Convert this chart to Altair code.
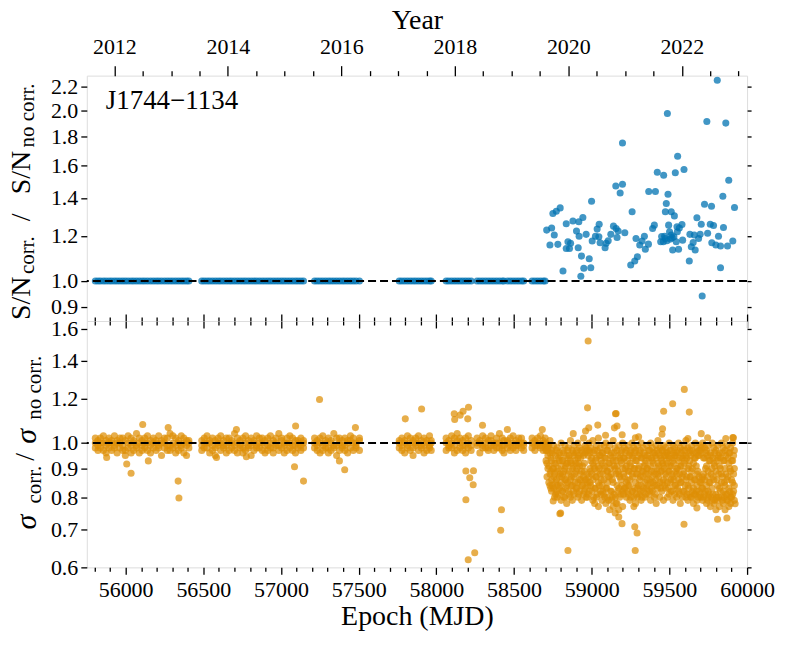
import altair as alt
import pandas as pd

FONT = "'Liberation Serif', 'DejaVu Serif', 'Noto Serif', serif"
BLUE = "#0173B2"
ORANGE = "#DE8F05"
X_DOMAIN = [55750, 60000]
TOP_DOMAIN = [0.85, 2.3]
BOT_DOMAIN = [0.6, 1.65]
TOP_TICKS = [0.9, 1.0, 1.2, 1.4, 1.6, 1.8, 2.0, 2.2]
BOT_TICKS = [0.6, 0.7, 0.8, 0.9, 1.0, 1.2, 1.4, 1.6]
MJD_TICKS = list(range(55800, 60001, 100))
YEAR_TICKS = [2012.0, 2012.5, 2013.0, 2013.5, 2014.0, 2014.5, 2015.0, 2015.5, 2016.0,
              2016.5, 2017.0, 2017.5, 2018.0, 2018.5, 2019.0, 2019.5, 2020.0, 2020.5,
              2021.0, 2021.5, 2022.0, 2022.5, 2023.0]

# observing epochs before the correction era (ratio of S/N exactly 1)
SEG1 = [55805, 55822, 55838, 55857, 55874, 55893, 55910, 55928, 55945, 55963, 55981, 55998,
        56016, 56035, 56052, 56070, 56088, 56106, 56123, 56141, 56160, 56178, 56196, 56213,
        56231, 56250, 56268, 56286, 56304, 56322, 56340, 56358, 56375, 56392, 56407]
SEG2 = [56490, 56506, 56524, 56541, 56559, 56577, 56595, 56612, 56630, 56648, 56666, 56683,
        56701, 56719, 56737, 56755, 56772, 56790, 56808, 56826, 56843, 56861, 56879, 56897,
        56915, 56932, 56950, 56968, 56986, 57004, 57021, 57039, 57057, 57075, 57093, 57110,
        57128, 57145]
SEG3 = [57216, 57233, 57251, 57269, 57287, 57305, 57322, 57340, 57358, 57376, 57394, 57411,
        57429, 57447, 57465, 57483, 57505]
SEG4 = [57761, 57778, 57796, 57814, 57832, 57850, 57867, 57885, 57903, 57921, 57939, 57956, 57967]
SEG5 = [58063, 58080, 58098, 58116, 58134, 58152, 58170, 58188, 58206, 58224, 58262, 58280,
        58298, 58316, 58334, 58352, 58370, 58388, 58406, 58424, 58435, 58458, 58476, 58494,
        58512, 58530, 58548, 58562]
SEG6 = [58616, 58634, 58652, 58670, 58688, 58700]
EARLY_MJD = SEG1 + SEG2 + SEG3 + SEG4 + SEG5 + SEG6
EARLY_SN_RATIO = 1.0

# S/N ratio after the correction started
TOP_LATE_MJD = [58710, 58742, 58731, 58759, 58750, 58772, 58797, 58782, 58815, 58836, 58847, 58836,
                58864, 58857, 58879, 58902, 58913, 58917, 58943, 58919, 58934, 58949, 58930, 58964,
                58984, 58994, 58999, 59003, 59024, 59035, 59048, 59054, 59046, 59086, 59093, 59106,
                59123, 59140, 59157, 59163, 59170, 59155, 59183, 59198, 59198, 59213, 59251, 59260,
                59277, 59294, 59285, 59309, 59324, 59339, 59345, 59367, 59365, 59392, 59403, 59410,
                59422, 59450, 59461, 59463, 59474, 59480, 59487, 59491, 59474, 59495, 59506, 59512,
                59512, 59521, 59532, 59529, 59538, 59544, 59553, 59551, 59559, 59564, 59581, 59585,
                59594, 59628, 59632, 59641, 59653, 59660, 59666, 59677, 59688, 59698, 59705, 59711,
                59726, 59741, 59746, 59763, 59771, 59773, 59784, 59799, 59808, 59816, 59829, 59829,
                59844, 59848, 59863, 59874, 59882, 59908, 59919, 59444, 59484, 59517, 59501, 59469,
                59549]
TOP_LATE_VAL = [1.229, 1.240, 1.157, 1.205, 1.315, 1.327, 1.345, 1.160, 1.041, 1.261, 1.172, 1.141,
                1.165, 1.141, 1.275, 1.224, 1.144, 1.271, 1.294, 1.199, 1.106, 1.053, 1.019, 1.208,
                1.094, 1.055, 1.382, 1.176, 1.199, 1.234, 1.259, 1.168, 1.196, 1.144, 1.165, 1.177,
                1.208, 1.249, 1.237, 1.193, 1.224, 1.470, 1.429, 1.480, 1.750, 1.216, 1.067, 1.324,
                1.084, 1.103, 1.188, 1.157, 1.176, 1.199, 1.137, 1.437, 1.161, 1.237, 1.254, 1.437,
                1.554, 1.198, 1.172, 1.535, 1.324, 1.369, 1.972, 1.422, 1.188, 1.254, 1.185, 1.324,
                1.205, 1.134, 1.302, 1.196, 1.551, 1.172, 1.658, 1.221, 1.137, 1.240, 1.257, 1.180,
                1.571, 1.084, 1.208, 1.149, 1.169, 1.205, 1.134, 1.292, 1.188, 1.208, 1.259, 0.941,
                1.365, 1.910, 1.213, 1.259, 1.354, 1.168, 1.252, 1.157, 2.257, 1.199, 1.152, 1.055,
                1.410, 1.242, 1.897, 1.152, 1.504, 1.176, 1.347, 1.172, 1.177, 1.191, 1.221, 1.199,
                1.246]

# sigma ratio, three TOAs per early epoch
BOT_EARLY_VAL = [
    1.00, 0.98, 1.02, 0.99, 1.01, 0.97, 1.02, 0.98, 1.00, 0.97, 1.00, 1.03, 1.01, 0.99, 0.96,
    0.98, 1.02, 1.00, 1.00, 0.97, 1.01, 0.99, 1.03, 0.98, 1.01, 0.96, 1.00, 0.98, 1.00, 1.02,
    1.02, 0.99, 0.97, 0.97, 1.01, 0.95, 1.00, 0.98, 1.03, 0.99, 1.02, 0.96, 1.01, 0.97, 1.00,
    0.98, 1.04, 0.99, 1.00, 0.96, 1.02, 0.99, 1.01, 0.97, 1.02, 0.98, 1.00, 0.97, 1.00, 1.03,
    1.01, 0.99, 0.96, 0.98, 1.02, 1.00, 1.00, 0.97, 1.01, 0.99, 1.03, 0.98, 1.01, 0.95, 1.00,
    0.98, 1.00, 1.02, 1.02, 0.99, 0.97, 0.97, 1.04, 0.99, 1.00, 0.98, 1.03, 0.99, 1.02, 0.96,
    1.01, 0.97, 1.00, 0.98, 1.03, 0.99, 1.00, 0.96, 1.02, 0.99, 1.01, 0.95, 1.01, 0.98, 1.00,
    0.99, 1.01, 0.97, 1.02, 0.98, 1.00, 0.98, 1.00, 1.03, 1.00, 0.96, 1.01, 0.97, 0.99, 1.02,
    1.01, 0.98, 0.95, 0.99, 1.02, 1.00, 1.00, 0.97, 1.03, 0.98, 1.01, 0.99, 1.02, 0.99, 0.96,
    0.97, 1.00, 1.02, 1.01, 0.98, 1.00, 0.99, 1.04, 0.97, 1.00, 0.96, 1.02, 0.98, 1.01, 0.99,
    1.02, 0.98, 0.96, 0.97, 1.00, 1.03, 1.01, 0.99, 0.98, 0.99, 1.02, 0.95, 1.00, 0.97, 1.01,
    0.98, 1.03, 0.99, 1.02, 0.98, 1.00, 0.97, 1.00, 1.02, 1.01, 0.96, 0.99, 0.99, 1.02, 0.97,
    1.00, 0.98, 1.03, 0.98, 1.01, 0.96, 1.02, 0.99, 1.00, 0.97, 1.04, 0.99, 1.01, 0.98, 1.02,
    0.99, 0.96, 1.00, 1.00, 1.02, 0.97, 0.98, 1.00, 1.03, 1.02, 0.97, 0.99, 0.99, 1.01, 0.96,
    1.01, 0.98, 1.00, 0.97, 1.02, 0.99, 1.00, 0.98, 1.01,
    1.00, 0.98, 1.02, 0.97, 1.01, 0.99, 1.02, 0.96, 1.00, 0.99, 1.03, 0.97, 1.01, 0.98, 1.00,
    0.98, 1.02, 0.96, 1.00, 0.97, 1.01, 0.99, 1.04, 0.98, 1.02, 0.99, 0.95, 0.97, 1.00, 1.02,
    1.01, 0.98, 0.99, 0.99, 1.02, 0.97, 1.00, 0.96, 1.01, 0.98, 1.01, 1.03, 1.02, 0.97, 1.00,
    0.99, 1.00, 0.98, 1.01, 0.97, 1.02,
    1.00, 0.98, 1.01, 0.97, 1.02, 0.99, 1.01, 0.96, 1.00, 0.99, 1.03, 0.98, 1.02, 0.97, 1.00,
    0.98, 1.01, 0.95, 1.00, 0.99, 1.02, 0.97, 1.00, 1.03, 1.01, 0.98, 0.99, 0.99, 1.02, 0.96,
    1.00, 0.97, 1.01, 0.98, 1.03, 0.99, 1.01, 0.97, 1.00,
    1.00, 0.97, 1.02, 0.98, 1.01, 0.99, 1.03, 0.98, 1.00, 0.99, 1.02, 0.96, 1.01, 0.97, 1.04,
    1.00, 0.98, 1.02, 0.97, 1.01, 0.99, 1.02, 0.99, 0.96, 0.98, 1.00, 1.03, 1.01, 0.97, 0.99,
    0.99, 1.02, 1.00, 1.00, 0.96, 1.01, 0.98, 1.03, 0.99, 1.02, 0.98, 1.00, 0.97, 1.01, 0.98,
    1.01, 0.99, 1.03, 0.99, 0.97, 1.00, 1.00, 1.02, 0.98, 0.98, 1.00, 1.04, 1.02, 0.97, 0.99,
    0.99, 1.01, 0.96, 1.01, 0.98, 1.00, 0.97, 1.02, 0.99, 1.00, 0.98, 1.03, 0.99, 1.01, 0.97,
    1.02, 0.99, 1.00, 0.98, 1.00, 1.02, 1.00, 0.97, 0.99,
    1.00, 0.98, 1.02, 0.99, 1.01, 0.97, 1.02, 0.99, 1.00, 0.98, 1.03, 0.99, 1.00, 0.97, 1.01,
    0.99, 1.02, 0.98,
]

# sigma ratio in the correction era: epochs and four TOAs each
BOT_LATE_MJD = [58706, 58718, 58731, 58742, 58755, 58767, 58778, 58791, 58803, 58814, 58827, 58839,
                58850, 58863, 58875, 58886, 58899, 58911, 58922, 58935, 58947, 58958, 58971, 58983,
                58994, 59007, 59019, 59030, 59043, 59055, 59066, 59079, 59091, 59102, 59115, 59127,
                59138, 59151, 59163, 59174, 59187, 59199, 59210, 59223, 59235, 59246, 59259, 59271,
                59282, 59295, 59307, 59318, 59331, 59343, 59354, 59367, 59379, 59390, 59403, 59415,
                59426, 59439, 59451, 59462, 59475, 59487, 59498, 59511, 59523, 59534, 59547, 59559,
                59570, 59583, 59595, 59606, 59619, 59631, 59642, 59655, 59667, 59678, 59691, 59703,
                59714, 59727, 59739, 59750, 59763, 59775, 59786, 59799, 59811, 59822, 59835, 59847,
                59858, 59871, 59883, 59894, 59907, 59918]
BOT_LATE_VAL = [
    0.99, 0.97, 0.93, 1.00, 0.98, 0.95, 0.90, 0.99, 0.96, 0.88, 0.84, 1.01, 0.93, 0.86, 0.82, 0.97,
    0.99, 0.90, 0.83, 0.87, 0.95, 0.85, 0.81, 0.92, 0.98, 0.89, 0.80, 0.84, 0.96, 0.87, 0.83, 0.93,
    1.00, 0.91, 0.85, 0.79, 0.97, 0.93, 0.88, 0.82, 0.99, 0.90, 0.80, 0.86, 0.95, 0.92, 0.84, 0.78,
    0.98, 0.88, 0.82, 0.94, 1.01, 0.93, 0.86, 0.80, 0.97, 0.90, 0.84, 0.79, 0.99, 0.95, 0.87, 0.81,
    0.96, 0.89, 0.83, 0.92, 1.00, 0.94, 0.85, 0.80, 0.98, 0.91, 0.86, 0.82, 0.97, 0.89, 0.84, 0.79,
    1.02, 0.95, 0.87, 0.81, 0.99, 0.96, 0.86, 0.83, 0.97, 0.88, 0.85, 0.80, 1.00, 0.97, 0.87, 0.82,
    0.98, 0.89, 0.84, 0.93, 1.01, 0.92, 0.86, 0.79, 0.97, 0.90, 0.83, 0.78, 0.99, 0.94, 0.87, 0.80,
    1.02, 0.91, 0.85, 0.77, 0.98, 0.88, 0.82, 0.95, 0.96, 0.92, 0.84, 0.79, 0.99, 0.90, 0.86, 0.81,
    1.00, 0.94, 0.83, 0.78, 0.97, 0.89, 0.85, 0.80, 0.99, 0.92, 0.87, 0.76, 0.96, 0.88, 0.82, 0.79,
    1.01, 0.93, 0.85, 0.77, 0.98, 0.90, 0.80, 0.75, 0.97, 0.91, 0.84, 0.78, 0.99, 0.88, 0.83, 0.76,
    0.96, 0.93, 0.86, 0.81, 1.00, 0.90, 0.82, 0.77, 0.98, 0.94, 0.87, 0.83, 0.97, 0.91, 0.85, 0.80,
    0.99, 0.89, 0.84, 0.81, 0.96, 0.92, 0.86, 0.79, 1.00, 0.95, 0.88, 0.82, 0.98, 0.90, 0.80, 0.77,
    0.97, 0.93, 0.85, 0.78, 0.99, 0.88, 0.83, 0.80, 0.96, 0.91, 0.86, 0.81, 1.00, 0.94, 0.84, 0.79,
    0.98, 0.89, 0.87, 0.82, 0.95, 0.92, 0.85, 0.80, 0.99, 0.90, 0.83, 0.86, 0.97, 0.94, 0.88, 0.81,
    1.00, 0.91, 0.85, 0.79, 0.98, 0.93, 0.87, 0.82, 0.96, 0.89, 0.84, 0.80, 0.99, 0.94, 0.86, 0.78,
    1.01, 0.92, 0.88, 0.83, 0.98, 0.95, 0.85, 0.80, 0.97, 0.93, 0.89, 0.82, 0.99, 0.91, 0.86, 0.79,
    0.98, 0.95, 0.88, 0.83, 0.96, 0.92, 0.85, 0.80, 1.00, 0.94, 0.89, 0.81, 0.97, 0.91, 0.86, 0.82,
    0.99, 0.93, 0.87, 0.79, 0.98, 0.95, 0.84, 0.81, 0.96, 0.90, 0.88, 0.80, 1.00, 0.93, 0.86, 0.82,
    0.98, 0.91, 0.85, 0.78, 0.97, 0.94, 0.87, 0.80, 0.99, 0.92, 0.89, 0.82, 1.01, 0.95, 0.86, 0.80,
    0.98, 0.90, 0.84, 0.79, 0.97, 0.93, 0.87, 0.81, 0.99, 0.89, 0.85, 0.80, 0.96, 0.92, 0.83, 0.78,
    1.00, 0.94, 0.86, 0.81, 0.98, 0.88, 0.84, 0.79, 0.97, 0.95, 0.87, 0.82, 0.99, 0.96, 0.85, 0.80,
    1.00, 0.87, 0.83, 0.79, 0.98, 0.94, 0.86, 0.81, 0.97, 0.91, 0.84, 0.78, 0.99, 0.89, 0.82, 0.80,
    0.96, 0.93, 0.85, 0.77, 1.00, 0.90, 0.83, 0.79, 0.98, 0.92, 0.86, 0.78, 0.97, 0.89, 0.81, 0.76,
    0.99, 0.94, 0.84, 0.79, 0.96, 0.91, 0.83, 0.77, 1.00, 0.88, 0.85, 0.80, 0.98, 0.93, 0.82, 0.78,
    0.97, 0.90, 0.84, 0.76, 0.99, 0.86, 0.81, 0.79, 0.96, 0.92, 0.83, 0.77, 0.98, 0.89, 0.80, 0.78,
    1.00, 0.93, 0.85, 0.81, 0.97, 0.90, 0.84, 0.79,
]

# a second set of correction-era epochs, three TOAs each
BOT_LATE2_MJD = [58712, 58724, 58737, 58748, 58761, 58773, 58784, 58797, 58809, 58820, 58833, 58845,
                 58856, 58869, 58881, 58892, 58905, 58917, 58928, 58941, 58953, 58964, 58977, 58989,
                 59000, 59013, 59025, 59036, 59049, 59061, 59072, 59085, 59097, 59108, 59121, 59133,
                 59144, 59157, 59169, 59180, 59193, 59205, 59216, 59229, 59241, 59252, 59265, 59277,
                 59288, 59301, 59313, 59324, 59337, 59349, 59360, 59373, 59385, 59396, 59409, 59421,
                 59432, 59445, 59457, 59468, 59481, 59493, 59504, 59517, 59529, 59540, 59553, 59565,
                 59576, 59589, 59601, 59612, 59625, 59637, 59648, 59661, 59673, 59684, 59697, 59709,
                 59720, 59733, 59745, 59756, 59769, 59781, 59792, 59805, 59817, 59828, 59841, 59853,
                 59864, 59877, 59889, 59900, 59913]
BOT_LATE2_VAL = [
    0.97, 0.92, 0.87, 0.99, 0.91, 0.85, 0.94, 0.89, 0.83, 0.96, 0.90, 0.84,
    0.92, 0.88, 0.80, 0.97, 0.86, 0.82, 0.94, 0.90, 0.81, 0.95, 0.88, 0.84,
    0.93, 0.87, 0.82, 0.96, 0.89, 0.80, 0.91, 0.86, 0.83, 0.97, 0.92, 0.85,
    0.95, 0.89, 0.81, 0.92, 0.87, 0.84, 0.96, 0.91, 0.82, 0.93, 0.88, 0.85,
    0.97, 0.90, 0.83, 0.95, 0.92, 0.81, 0.94, 0.88, 0.86, 0.96, 0.91, 0.84,
    0.92, 0.89, 0.82, 0.98, 0.86, 0.80, 0.95, 0.84, 0.81, 0.96, 0.90, 0.85,
    0.94, 0.88, 0.82, 0.96, 0.91, 0.80, 0.93, 0.87, 0.83, 0.97, 0.89, 0.81,
    0.95, 0.90, 0.84, 0.93, 0.86, 0.81, 0.96, 0.88, 0.82, 0.94, 0.91, 0.80,
    0.97, 0.89, 0.83, 0.92, 0.87, 0.79, 0.95, 0.90, 0.82, 0.94, 0.86, 0.80,
    0.96, 0.91, 0.81, 0.93, 0.88, 0.78, 0.95, 0.89, 0.82, 0.94, 0.87, 0.80,
    0.97, 0.92, 0.84, 0.94, 0.88, 0.81, 0.96, 0.90, 0.83, 0.93, 0.86, 0.82,
    0.95, 0.89, 0.84, 0.97, 0.91, 0.80, 0.94, 0.87, 0.82, 0.96, 0.90, 0.83,
    0.93, 0.88, 0.81, 0.95, 0.90, 0.84, 0.97, 0.87, 0.82, 0.94, 0.89, 0.80,
    0.96, 0.91, 0.83, 0.93, 0.88, 0.81, 0.95, 0.90, 0.84, 0.97, 0.86, 0.82,
    0.94, 0.89, 0.83, 0.96, 0.92, 0.85, 0.95, 0.88, 0.81, 0.97, 0.90, 0.84,
    0.96, 0.91, 0.87, 0.94, 0.89, 0.83, 0.97, 0.92, 0.85, 0.95, 0.90, 0.84,
    0.96, 0.93, 0.87, 0.95, 0.89, 0.83, 0.97, 0.91, 0.85, 0.94, 0.88, 0.82,
    0.96, 0.92, 0.86, 0.95, 0.89, 0.84, 0.97, 0.90, 0.83, 0.94, 0.88, 0.81,
    0.96, 0.91, 0.85, 0.95, 0.88, 0.82, 0.97, 0.93, 0.84, 0.94, 0.87, 0.81,
    0.96, 0.91, 0.83, 0.95, 0.87, 0.80, 0.97, 0.90, 0.82, 0.94, 0.86, 0.81,
    0.96, 0.91, 0.82, 0.95, 0.89, 0.80, 0.97, 0.85, 0.81, 0.98, 0.86, 0.83,
    0.94, 0.88, 0.80, 0.96, 0.90, 0.82, 0.95, 0.87, 0.79, 0.93, 0.85, 0.81,
    0.95, 0.88, 0.80, 0.94, 0.87, 0.81, 0.96, 0.91, 0.79, 0.93, 0.86, 0.80,
    0.95, 0.88, 0.80, 0.94, 0.90, 0.82, 0.96, 0.87, 0.79, 0.93, 0.85, 0.80,
    0.95, 0.88, 0.81, 0.94, 0.87, 0.79, 0.96, 0.90, 0.82, 0.93, 0.86, 0.80,
    0.95, 0.88, 0.82,
]

# isolated sigma-ratio outliers
BOT_OUT_MJD = [56035, 56343, 56338, 56110, 56007, 55878, 56274, 57087, 57094, 57145, 57248, 57410,
               57376, 57479, 56146, 56585, 56777, 56713, 57800, 57905, 58115, 58118, 58153, 58172,
               58207, 58202, 58190, 58239, 58215, 58237, 58190, 58419, 58414, 58247, 58205, 58297,
               58457, 58682, 58752, 58795, 58847, 58977, 58973, 58981, 59039, 59153, 59163, 59195,
               59277, 59277, 59292, 59280, 59463, 59521, 59596, 59628, 59594, 59810, 59870, 59677,
               59912, 59456, 59452, 59281, 58881, 58960, 59089, 59157, 59146, 59196, 59302, 59619,
               59705, 59746, 59863, 59908, 58800, 59174, 59923]
BOT_OUT_VAL = [0.883, 0.798, 0.855, 1.079, 0.917, 0.942, 1.065, 0.907, 1.072, 0.855, 1.195, 0.896,
               0.929, 1.065, 0.929, 0.942, 0.945, 1.057, 1.104, 1.150, 1.127, 1.101, 1.121, 1.139,
               1.158, 1.104, 0.891, 0.892, 0.867, 0.842, 0.792, 0.760, 0.699, 0.637, 0.619, 1.075,
               1.057, 1.057, 0.788, 0.748, 0.643, 1.520, 1.155, 1.064, 1.076, 1.127, 1.072, 0.718,
               1.072, 0.709, 0.691, 0.643, 1.139, 1.175, 1.246, 1.135, 0.716, 0.731, 0.735, 0.766,
               1.022, 1.060, 1.036, 1.022, 1.039, 1.050, 1.032, 1.128, 1.064, 1.034, 1.026, 1.018,
               1.039, 1.022, 1.018, 1.023, 0.750, 0.738, 0.779]

# ---------------------------------------------------------------- tables
top_rows = [{"mjd": m, "ratio": EARLY_SN_RATIO} for m in EARLY_MJD]
top_rows += [{"mjd": m, "ratio": v} for m, v in zip(TOP_LATE_MJD, TOP_LATE_VAL)]
top_df = pd.DataFrame(top_rows)

bot_rows = []
for i, m in enumerate(EARLY_MJD):
    for v in BOT_EARLY_VAL[3 * i:3 * i + 3]:
        bot_rows.append({"mjd": m, "ratio": v})
for i, m in enumerate(BOT_LATE_MJD):
    for v in BOT_LATE_VAL[4 * i:4 * i + 4]:
        bot_rows.append({"mjd": m, "ratio": v})
for i, m in enumerate(BOT_LATE2_MJD):
    for v in BOT_LATE2_VAL[3 * i:3 * i + 3]:
        bot_rows.append({"mjd": m, "ratio": v})
bot_rows += [{"mjd": m, "ratio": v} for m, v in zip(BOT_OUT_MJD, BOT_OUT_VAL)]
bot_df = pd.DataFrame(bot_rows)

one_df = pd.DataFrame({"one": [1.0]})
year_tick_mjd = [51544.5 + (y - 2000.0) * 365.25 for y in YEAR_TICKS]

W, H_TOP, H_BOT = 662, 246, 247

xscale = alt.Scale(domain=X_DOMAIN, zero=False, nice=False)
ytop_scale = alt.Scale(type="log", domain=TOP_DOMAIN, nice=False)
ybot_scale = alt.Scale(type="log", domain=BOT_DOMAIN, nice=False)

MAJOR500 = "datum.value % 500 === 0"
YEAR_MAJOR = "round((datum.value - 51544.5) / 365.25 * 2) % 4 === 0"


def mjd_axis(orient, labels, title=None):
    kw = dict(orient=orient, values=MJD_TICKS, labels=labels, domain=False, grid=False,
              tickSize={"condition": {"test": MAJOR500, "value": 7}, "value": 4},
              tickColor="black", tickWidth=1.3, labelFlush=False, labelOverlap=False,
              labelFont=FONT, labelFontSize=22, labelColor="black", labelPadding=5,
              labelExpr="datum.value % 500 === 0 ? '' + datum.value : ''")
    if title:
        kw.update(title=title, titleFont=FONT, titleFontSize=28, titleFontWeight="normal",
                  titleColor="black", titlePadding=2)
    else:
        kw.update(title=None)
    return alt.Axis(**kw)


def y_axis(orient, values, labels):
    return alt.Axis(orient=orient, values=values, labels=labels, format=".1f", title=None,
                    domain=False, grid=False, tickSize=6 if labels else 4, tickColor="black",
                    tickWidth=1.3, labelFlush=False, labelOverlap=False, labelFont=FONT,
                    labelFontSize=22, labelColor="black", labelPadding=3)


def piece(text, x, y, size, italic=False):
    return alt.Chart(alt.Data(values=[{}])).mark_text(
        text=text, angle=270, align="left", baseline="alphabetic", font=FONT,
        fontSize=size, fontStyle="italic" if italic else "normal", color="black"
    ).encode(x=alt.value(x), y=alt.value(y))


dash = dict(color="black", strokeDash=[8, 4], strokeWidth=2)

# ---------------------------------------------------------------- top panel
top_pts = alt.Chart(top_df).mark_circle(size=50, color=BLUE, opacity=0.75).encode(
    x=alt.X("mjd:Q", scale=xscale, axis=mjd_axis("bottom", False)),
    y=alt.Y("ratio:Q", scale=ytop_scale, axis=y_axis("left", TOP_TICKS, True)),
)
top_rule = alt.Chart(one_df).mark_rule(**dash).encode(
    y=alt.Y("one:Q", scale=ytop_scale, axis=y_axis("right", TOP_TICKS, False)),
)
year_axis = alt.Axis(
    orient="top", values=year_tick_mjd, domain=False, grid=False,
    tickSize={"condition": {"test": YEAR_MAJOR, "value": 10}, "value": 5},
    tickColor="black", tickWidth=1.3, labelFlush=False, labelOverlap=False,
    labelFont=FONT, labelFontSize=22, labelColor="black", labelPadding=7,
    labelExpr="(" + YEAR_MAJOR + ") ? format(2000 + round((datum.value - 51544.5) / 365.25), 'd') : ''",
    title="Year", titleFont=FONT, titleFontSize=28, titleFontWeight="normal",
    titleColor="black", titlePadding=1)
top_year = alt.Chart(top_df).mark_point(opacity=0).encode(
    x=alt.X("mjd:Q", scale=xscale, axis=year_axis),
)
label = alt.Chart(alt.Data(values=[{}])).mark_text(
    text="J1744\u22121134", align="left", baseline="alphabetic", font=FONT, fontSize=27,
    color="black").encode(x=alt.value(19), y=alt.value(33))

top = alt.layer(
    top_pts, top_rule, top_year, label,
    piece("S/N", -57, 245, 28), piece("corr.", -53, 199, 21),
    piece("/", -57, 146, 28), piece("S/N", -57, 119, 28), piece("no corr.", -53, 72, 21),
).resolve_axis(x="independent", y="independent").properties(width=W, height=H_TOP)

# ---------------------------------------------------------------- bottom panel
bot_pts = alt.Chart(bot_df).mark_circle(size=50, color=ORANGE, opacity=0.72).encode(
    x=alt.X("mjd:Q", scale=xscale, axis=mjd_axis("bottom", True, "Epoch (MJD)")),
    y=alt.Y("ratio:Q", scale=ybot_scale, axis=y_axis("left", BOT_TICKS, True)),
)
bot_rule = alt.Chart(one_df).mark_rule(**dash).encode(
    y=alt.Y("one:Q", scale=ybot_scale, axis=y_axis("right", BOT_TICKS, False)),
)
bot_topaxis = alt.Chart(bot_df).mark_point(opacity=0).encode(
    x=alt.X("mjd:Q", scale=xscale, axis=mjd_axis("top", False)),
)
bot = alt.layer(
    bot_pts, bot_rule, bot_topaxis,
    piece("\u03c3", -51, 209, 30, italic=True), piece("corr.", -46, 183, 21),
    piece("/", -53, 140, 28), piece("\u03c3", -51, 123, 30, italic=True),
    piece("no corr.", -46, 99, 21),
).resolve_axis(x="independent", y="independent").properties(width=W, height=H_BOT)

chart = alt.vconcat(top, bot, spacing=0, bounds="flush").properties(
    padding={"left": -1, "top": -3, "right": 5, "bottom": 2}
).configure_view(stroke="black", strokeWidth=2).configure(font=FONT)

chart.save("out.html", embed_options={"renderer": "svg", "actions": False})
